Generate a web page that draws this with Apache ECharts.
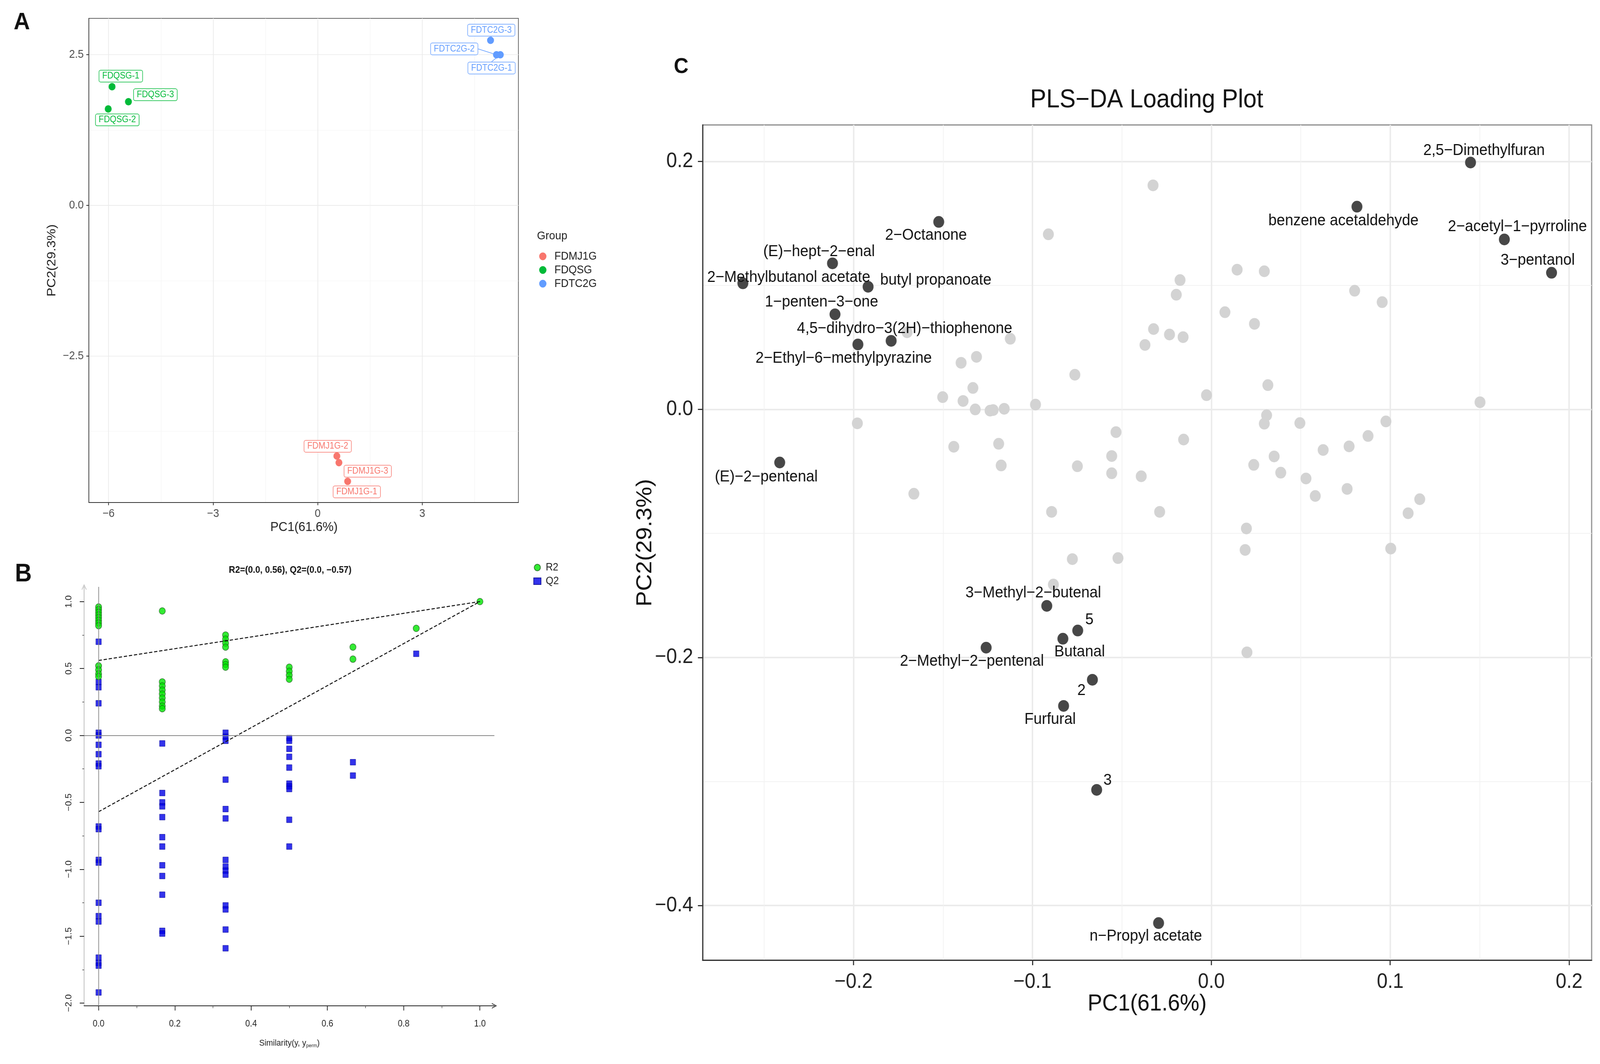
<!DOCTYPE html>
<html>
<head>
<meta charset="utf-8">
<script src="https://cdn.jsdelivr.net/npm/echarts@6/dist/echarts.min.js"></script>
<style>
html, body { margin: 0; padding: 0; background: #fff; overflow: hidden; width: 100%; height: 100%; }
#main { width: 4395px; height: 2725px; transform-origin: 0 0; }
</style>
</head>
<body>
<div id="main"></div>
<script>
var FONT = '"Liberation Sans", Arial, Helvetica, sans-serif';

// ---------- panel A : PCA scores ----------
var groupNames = ['FDMJ1G', 'FDQSG', 'FDTC2G'];
var mjSamples = ['FDMJ1G-1', 'FDMJ1G-2', 'FDMJ1G-3'];
var mjPC1 = [0.86, 0.55, 0.61];
var mjPC2 = [-4.58, -4.16, -4.27];
var qsSamples = ['FDQSG-1', 'FDQSG-2', 'FDQSG-3'];
var qsPC1 = [-5.90, -6.01, -5.43];
var qsPC2 = [1.97, 1.60, 1.72];
var tcSamples = ['FDTC2G-1', 'FDTC2G-2', 'FDTC2G-3'];
var tcPC1 = [5.24, 5.13, 4.96];
var tcPC2 = [2.50, 2.50, 2.74];
var scoreTicksX = [-6, -3, 0, 3];
var scoreTicksY = [-2.5, 0, 2.5];

// ---------- panel B : permutation test ----------
var permSim = [0, 0.167, 0.333, 0.5, 0.667, 0.833, 1.0];
var r2Perm = [
  [0.96, 0.94, 0.92, 0.90, 0.88, 0.86, 0.84, 0.82, 0.52, 0.49, 0.46, 0.44],
  [0.93, 0.40, 0.37, 0.34, 0.31, 0.28, 0.25, 0.22, 0.20],
  [0.75, 0.72, 0.69, 0.66, 0.55, 0.53, 0.51],
  [0.51, 0.48, 0.45, 0.42],
  [0.66, 0.57],
  [0.80],
  [1.00]
];
var q2Perm = [
  [0.70, 0.40, 0.36, 0.24, 0.02, 0.00, -0.07, -0.14, -0.21, -0.23, -0.68, -0.70, -0.93, -0.95, -1.25, -1.35, -1.39, -1.66, -1.70, -1.72, -1.92],
  [-0.06, -0.43, -0.50, -0.53, -0.61, -0.76, -0.83, -0.97, -1.05, -1.19, -1.46, -1.48],
  [0.02, -0.01, -0.04, -0.33, -0.55, -0.62, -0.93, -0.98, -1.01, -1.04, -1.27, -1.30, -1.45, -1.59],
  [-0.02, -0.04, -0.10, -0.16, -0.24, -0.36, -0.38, -0.40, -0.63, -0.83],
  [-0.20, -0.30],
  [0.61],
  []
];
var r2Fit = [[0, 0.56], [1, 1.0]];
var q2Fit = [[0, -0.57], [1, 1.0]];
var permTicksX = [0, 0.2, 0.4, 0.6, 0.8, 1.0];
var permTicksY = [-2, -1.5, -1, -0.5, 0, 0.5, 1];

// ---------- panel C : PLS-DA loadings ----------
var keyNames = ['2,5\u2212Dimethylfuran', 'benzene acetaldehyde', '2\u2212acetyl\u22121\u2212pyrroline', '3\u2212pentanol',
  '2\u2212Octanone', '(E)\u2212hept\u22122\u2212enal', '2\u2212Methylbutanol acetate', 'butyl propanoate',
  '1\u2212penten\u22123\u2212one', '4,5\u2212dihydro\u22123(2H)\u2212thiophenone', '2\u2212Ethyl\u22126\u2212methylpyrazine',
  '(E)\u22122\u2212pentenal', '3\u2212Methyl\u22122\u2212butenal', '5', 'Butanal', '2\u2212Methyl\u22122\u2212pentenal',
  '2', 'Furfural', '3', 'n\u2212Propyl acetate'];
var keyPC1 = [0.1449, 0.0814, 0.1638, 0.1902, -0.1524, -0.2118, -0.2619, -0.1919, -0.2104, -0.1790, -0.1976,
  -0.2413, -0.0920, -0.0747, -0.0830, -0.1259, -0.0665, -0.0826, -0.0641, -0.0295];
var keyPC2 = [0.1991, 0.1635, 0.1371, 0.1102, 0.1512, 0.1178, 0.1017, 0.0989, 0.0767, 0.0553, 0.0524,
  -0.0428, -0.1584, -0.1783, -0.1849, -0.1921, -0.2180, -0.2391, -0.3068, -0.4142];
var otherPC1 = [-0.0326, -0.0911, 0.0144, 0.0296, -0.0175, -0.0196, 0.0801, 0.0955, 0.0076, 0.0241,
  -0.0323, -0.0234, -0.0158, -0.0371, -0.1701, -0.1124, -0.1313, -0.1399, -0.0763, 0.0316,
  -0.1333, -0.1502, -0.1388, -0.0027, -0.0983, -0.1320, -0.1237, -0.1220, -0.1158, 0.1502,
  -0.1979, 0.0309, 0.0296, 0.0495, 0.0976, -0.0533, -0.0155, 0.0876, -0.1440, -0.1189,
  0.0770, 0.0625, -0.0557, 0.0351, 0.0237, -0.1175, -0.0749, -0.0557, -0.0392, 0.0388,
  0.0529, 0.0759, 0.0581, -0.1663, 0.1165, 0.1100, -0.0893, -0.0289, 0.0196, 0.0189,
  0.1003, -0.0777, -0.0522, -0.0883, 0.0199];
var otherPC2 = [0.1807, 0.1412, 0.1127, 0.1114, 0.1043, 0.0925, 0.0957, 0.0865, 0.0784, 0.0690,
  0.0648, 0.0604, 0.0583, 0.0520, 0.0622, 0.0570, 0.0424, 0.0376, 0.0280, 0.0196,
  0.0173, 0.0099, 0.0068, 0.0115, 0.0039, 0.0000, -0.0010, -0.0005, 0.0005, 0.0058,
  -0.0112, -0.0047, -0.0115, -0.0110, -0.0097, -0.0183, -0.0243, -0.0214, -0.0301, -0.0277,
  -0.0298, -0.0327, -0.0376, -0.0379, -0.0447, -0.0452, -0.0458, -0.0515, -0.0539, -0.0510,
  -0.0557, -0.0641, -0.0698, -0.0680, -0.0724, -0.0837, -0.0826, -0.0826, -0.0960, -0.1133,
  -0.1122, -0.1207, -0.1199, -0.1412, -0.1959];
var loadTicksX = [-0.2, -0.1, 0, 0.1, 0.2];
var loadTicksY = [-0.4, -0.2, 0, 0.2];

// ---------- styling ----------
var groupColors = ['#F8766D', '#00BA38', '#619CFF'];
// label nudges (px) relative to the point
var nudgeA = {
  'FDQSG-1': [24, -27], 'FDQSG-3': [74, -18], 'FDQSG-2': [25, 28],
  'FDTC2G-3': [2, -26], 'FDTC2G-2': [-116, -15], 'FDTC2G-1': [-24, 34],
  'FDMJ1G-2': [-25, -25], 'FDMJ1G-3': [79, 22], 'FDMJ1G-1': [25, 27]
};
var nudgeC = {};
nudgeC[keyNames[0]] = [37, -31];  nudgeC[keyNames[1]] = [-37, 36];
nudgeC[keyNames[2]] = [36, -32];  nudgeC[keyNames[3]] = [-38, -32];
nudgeC[keyNames[4]] = [-35, 34];  nudgeC[keyNames[5]] = [-37, -30];
nudgeC[keyNames[6]] = [126, -15]; nudgeC[keyNames[7]] = [186, -17];
nudgeC[keyNames[8]] = [-37, -31]; nudgeC[keyNames[9]] = [37, -31];
nudgeC[keyNames[10]] = [-39, 36]; nudgeC[keyNames[11]] = [-37, 37];
nudgeC[keyNames[12]] = [-37, -33]; nudgeC[keyNames[13]] = [32, -27];
nudgeC[keyNames[14]] = [46, 34];  nudgeC[keyNames[15]] = [-39, 35];
nudgeC[keyNames[16]] = [-30, 28]; nudgeC[keyNames[17]] = [-37, 35];
nudgeC[keyNames[18]] = [30, -24]; nudgeC[keyNames[19]] = [-35, 34];

var CHEVRON = 'path://M0,10L5,0L10,10L8.6,10L5,2.8L1.4,10Z';

function fmt(d, minus) {
  return function (v) {
    var s = Math.abs(v).toFixed(d);
    return (v < 0 ? minus : '') + s;
  };
}

function scoreSeries(gi, names, xs, ys) {
  var col = groupColors[gi];
  return {
    type: 'scatter', name: groupNames[gi], xAxisIndex: 0, yAxisIndex: 0,
    symbol: 'circle', symbolSize: 19,
    itemStyle: { color: col, opacity: 1 },
    data: names.map(function (n, i) { return { name: n, value: [xs[i], ys[i]] }; }),
    label: {
      show: true, position: 'inside', formatter: '{b}', color: col,
      fontSize: 23, fontFamily: FONT, backgroundColor: '#fff',
      borderColor: col, borderWidth: 1.5, borderRadius: 4, padding: [3, 8]
    },
    labelLayout: function (p) {
      var d = nudgeA[p.text] || [0, 0];
      return { dx: d[0], dy: d[1] };
    },
    labelLine: { show: gi === 2, lineStyle: { color: col, width: 1.5 } },
    emphasis: { disabled: true }
  };
}

function flatten(levels, vals) {
  var out = [];
  levels.forEach(function (s, i) {
    vals[i].forEach(function (v) { out.push([s, v]); });
  });
  return out;
}

var chart = echarts.init(document.getElementById('main'), null, { renderer: 'canvas' });

var option = {
  animation: false,
  backgroundColor: '#ffffff',
  textStyle: { fontFamily: FONT },
  grid: [
    { left: 244, top: 47, width: 1180, height: 1240, show: true, borderColor: '#666', borderWidth: 2, backgroundColor: 'transparent' },
    { left: 231, top: 1503, width: 1127, height: 1073, show: false },
    { left: 1930, top: 320, width: 2442, height: 2139, show: true, borderColor: '#8a8a8a', borderWidth: 3, backgroundColor: 'transparent' }
  ],
  xAxis: [
    {
      gridIndex: 0, type: 'value', min: -6.566, max: 5.76, splitNumber: 4,
      axisLine: { show: true, onZero: false, lineStyle: { color: '#333', width: 2 } },
      axisTick: { show: true, length: 7, customValues: scoreTicksX, lineStyle: { color: '#333', width: 2 } },
      axisLabel: { customValues: scoreTicksX, formatter: fmt(0, '\u2212'), fontSize: 29, color: '#4d4d4d', margin: 14, fontFamily: FONT },
      splitLine: { show: true, lineStyle: { color: '#ebebeb', width: 2 } },
      minorTick: { show: false, splitNumber: 2 },
      minorSplitLine: { show: true, lineStyle: { color: '#f4f4f4', width: 1.2 } }
    },
    {
      gridIndex: 1, type: 'value', min: -0.038, max: 1.038, splitNumber: 5,
      axisLine: { show: true, onZero: false, symbol: ['none', CHEVRON], symbolSize: [14, 16], lineStyle: { color: '#222', width: 2 } },
      axisTick: { show: true, length: 12, customValues: permTicksX, lineStyle: { color: '#222', width: 2 } },
      axisLabel: { customValues: permTicksX, formatter: fmt(1, '\u2212'), fontSize: 23, color: '#222', margin: 35, fontFamily: FONT },
      splitLine: { show: false },
      minorTick: { show: true, splitNumber: 2, length: 6, lineStyle: { color: '#444', width: 1.5 } },
      minorSplitLine: { show: false }
    },
    {
      gridIndex: 2, type: 'value', min: -0.2844, max: 0.2126, splitNumber: 5,
      axisLine: { show: true, onZero: false, lineStyle: { color: '#333', width: 3 } },
      axisTick: { show: true, length: 13, customValues: loadTicksX, lineStyle: { color: '#333', width: 3 } },
      axisLabel: { customValues: loadTicksX, formatter: fmt(1, '\u2212'), fontSize: 53, color: '#222', margin: 30, fontFamily: FONT },
      splitLine: { show: true, lineStyle: { color: '#ebebeb', width: 4 } },
      minorTick: { show: false, splitNumber: 2 },
      minorSplitLine: { show: true, lineStyle: { color: '#f2f2f2', width: 2 } }
    }
  ],
  yAxis: [
    {
      gridIndex: 0, type: 'value', min: -4.932, max: 3.104, splitNumber: 2,
      axisLine: { show: true, onZero: false, lineStyle: { color: '#333', width: 2 } },
      axisTick: { show: true, length: 7, customValues: scoreTicksY, lineStyle: { color: '#333', width: 2 } },
      axisLabel: { customValues: scoreTicksY, formatter: fmt(1, '\u2212'), fontSize: 29, color: '#4d4d4d', margin: 14, fontFamily: FONT },
      splitLine: { show: true, lineStyle: { color: '#ebebeb', width: 2 } },
      minorTick: { show: false, splitNumber: 4 },
      minorSplitLine: { show: true, lineStyle: { color: '#f4f4f4', width: 1.2 } }
    },
    {
      gridIndex: 1, type: 'value', min: -2.02, max: 1.11, splitNumber: 5,
      axisLine: { show: true, onZero: false, symbol: ['none', CHEVRON], symbolSize: [14, 16], lineStyle: { color: '#bbbbbb', width: 2 } },
      axisTick: { show: true, length: 12, customValues: permTicksY, lineStyle: { color: '#222', width: 2 } },
      axisLabel: { customValues: permTicksY, formatter: fmt(1, '\u2212'), rotate: 90, fontSize: 23, color: '#222', margin: 30, fontFamily: FONT },
      splitLine: { show: false },
      minorTick: { show: true, splitNumber: 2, length: 5, lineStyle: { color: '#444', width: 1.5 } },
      minorSplitLine: { show: false }
    },
    {
      gridIndex: 2, type: 'value', min: -0.4441, max: 0.2294, splitNumber: 3,
      axisLine: { show: true, onZero: false, lineStyle: { color: '#333', width: 3 } },
      axisTick: { show: true, length: 13, customValues: loadTicksY, lineStyle: { color: '#333', width: 3 } },
      axisLabel: { customValues: loadTicksY, formatter: fmt(1, '\u2212'), fontSize: 53, color: '#222', margin: 26, fontFamily: FONT },
      splitLine: { show: true, lineStyle: { color: '#ebebeb', width: 4 } },
      minorTick: { show: false, splitNumber: 2 },
      minorSplitLine: { show: true, lineStyle: { color: '#f2f2f2', width: 2 } }
    }
  ],
  legend: [
    {
      data: groupNames, orient: 'vertical', left: 1476, top: 637,
      icon: 'circle', itemWidth: 30, itemHeight: 20, itemGap: 6,
      textStyle: { fontSize: 29, color: '#222', fontFamily: FONT, padding: [0, 0, 0, 12] },
      selectedMode: false
    },
    {
      data: [{ name: 'R2', icon: 'circle' }, { name: 'Q2', icon: 'rect' }],
      orient: 'vertical', left: 1460, top: 1435,
      itemWidth: 20, itemHeight: 17, itemGap: 8,
      textStyle: { fontSize: 27, color: '#222', fontFamily: FONT, padding: [0, 0, 0, 8] },
      selectedMode: false
    }
  ],
  graphic: [],
  series: []
};

// panel A
option.series.push(scoreSeries(0, mjSamples, mjPC1, mjPC2));
option.series.push(scoreSeries(1, qsSamples, qsPC1, qsPC2));
option.series.push(scoreSeries(2, tcSamples, tcPC1, tcPC2));

// panel B
option.series.push({
  type: 'scatter', name: 'Q2', xAxisIndex: 1, yAxisIndex: 1,
  symbol: 'rect', symbolSize: 15,
  itemStyle: { color: '#0000e6', borderColor: '#00008b', borderWidth: 1 },
  data: flatten(permSim, q2Perm),
  emphasis: { disabled: true },
  markLine: {
    silent: true, symbol: ['none', 'none'], label: { show: false },
    lineStyle: { color: '#888', width: 2, type: 'solid' },
    data: [{ xAxis: 0 }, { yAxis: 0 }]
  },
  z: 2
});
option.series.push({
  type: 'scatter', name: 'R2', xAxisIndex: 1, yAxisIndex: 1,
  symbol: 'circle', symbolSize: 17,
  itemStyle: { color: '#00e600', borderColor: '#1f5f1f', borderWidth: 1.5 },
  data: flatten(permSim, r2Perm),
  emphasis: { disabled: true },
  z: 3
});
[r2Fit, q2Fit].forEach(function (fit) {
  option.series.push({
    type: 'line', xAxisIndex: 1, yAxisIndex: 1, data: fit,
    symbol: 'none', silent: true,
    lineStyle: { color: '#111', width: 2.5, type: [9, 5] },
    z: 4
  });
});

// panel C
option.series.push({
  type: 'scatter', xAxisIndex: 2, yAxisIndex: 2,
  symbol: 'circle', symbolSize: 30,
  itemStyle: { color: '#d3d3d3', opacity: 1 },
  data: otherPC1.map(function (x, i) { return [x, otherPC2[i]]; }),
  emphasis: { disabled: true }
});
option.series.push({
  type: 'scatter', xAxisIndex: 2, yAxisIndex: 2,
  symbol: 'circle', symbolSize: 30,
  itemStyle: { color: '#474747', opacity: 1 },
  data: keyNames.map(function (n, i) {
    return { name: n, value: [keyPC1[i], keyPC2[i]], label: { offset: nudgeC[n] } };
  }),
  label: { show: true, position: 'inside', formatter: '{b}', fontSize: 41, color: '#111', fontFamily: FONT },
  emphasis: { disabled: true }
});

// titles and panel letters
function txt(x, y, text, size, extra) {
  var st = {
    text: text, fontSize: size, fontFamily: FONT, fill: '#111',
    align: 'center', verticalAlign: 'middle', textAlign: 'center', textVerticalAlign: 'middle'
  };
  var el = { type: 'text', x: x, y: y, style: st, silent: true };
  if (extra) {
    Object.keys(extra).forEach(function (k) {
      if (k === 'rotation') el.rotation = extra[k]; else st[k] = extra[k];
    });
  }
  return el;
}
option.graphic = [
  txt(60, 58, 'A', 62, { fontWeight: 'bold' }),
  txt(64, 1471, 'B', 64, { fontWeight: 'bold' }),
  txt(1871, 172, 'C', 56, { fontWeight: 'bold' }),
  txt(835, 1351, 'PC1(61.6%)', 34, { fill: '#222' }),
  txt(143, 667, 'PC2(29.3%)', 34, { fill: '#222', rotation: Math.PI / 2 }),
  txt(1475, 605, 'Group', 30, { fill: '#222', align: 'left', textAlign: 'left' }),
  txt(797, 1460, 'R2=(0.0, 0.56), Q2=(0.0, \u22120.57)', 24, { fontWeight: 'bold' }),
  txt(795, 2672, 'Similarity(y, y{s|perm})', 22, { fill: '#222', rich: { s: { fontSize: 13, fontFamily: FONT, fill: '#222', padding: [12, 0, 0, 0] } } }),
  txt(3150, 257, 'PLS\u2212DA Loading Plot', 66),
  txt(3151, 2571, 'PC1(61.6%)', 60),
  txt(1772, 1390, 'PC2(29.3%)', 60, { rotation: Math.PI / 2 })
];

chart.setOption(option);

// the drawing is laid out on a 4395x2725 sheet; fit it to the real viewport
function fitToViewport() {
  var de = document.documentElement;
  var vw = de.clientWidth || window.innerWidth;
  var vh = de.clientHeight || window.innerHeight;
  document.getElementById('main').style.transform = 'scale(' + (vw / 4395) + ',' + (vh / 2725) + ')';
}
fitToViewport();
</script>
</body>
</html>
